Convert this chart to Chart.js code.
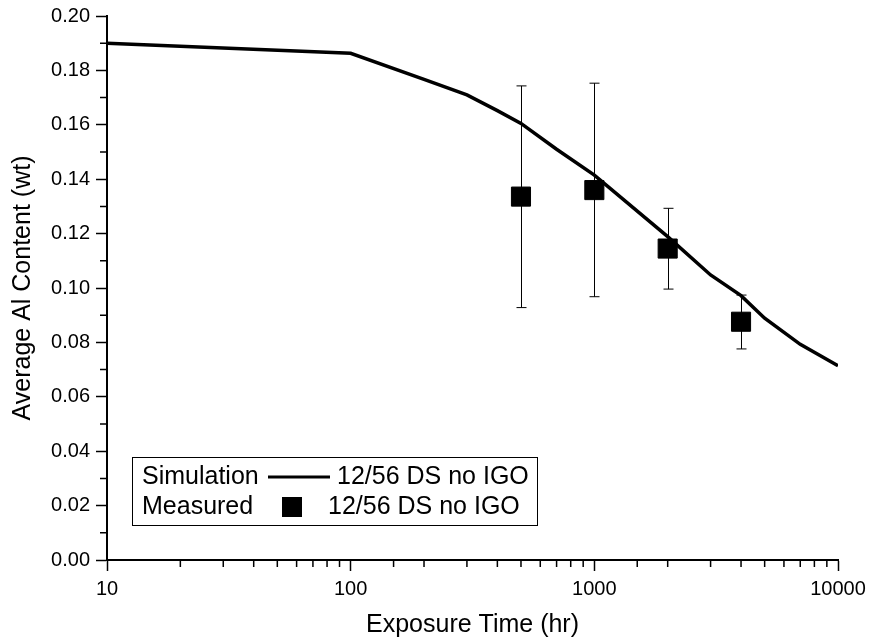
<!DOCTYPE html>
<html>
<head>
<meta charset="utf-8">
<script src="https://cdn.jsdelivr.net/npm/chart.js@4.4.1/dist/chart.umd.min.js"></script>
<style>
  html, body { margin: 0; padding: 0; background: #fff; }
  #wrap { width: 869px; height: 641px; }
</style>
</head>
<body>
<div id="wrap"><canvas id="chart" width="869" height="641"></canvas></div>
<script>
// simulation curve
const simTime = [10, 100, 200, 300, 400, 500, 700, 1000, 2000, 3000, 4000, 5000, 7000, 10000];
const simAl = [0.190, 0.1863, 0.1767, 0.1710, 0.1652, 0.1605, 0.1510, 0.1415, 0.1189, 0.1048, 0.0972, 0.0889, 0.0793, 0.0714];

// measured points with error bars
const measTime = [500, 1000, 2000, 4000];
const measAl = [0.1336, 0.1360, 0.1145, 0.0876];
const errHigh = [0.1743, 0.1753, 0.1293, 0.0974];
const errLow = [0.0928, 0.0968, 0.0996, 0.0776];

const xTickLabels = ['10', '100', '1000', '10000'];
const yTickLabels = ['0.00', '0.02', '0.04', '0.06', '0.08', '0.10', '0.12', '0.14', '0.16', '0.18', '0.20'];

const legendRows = [
  { name: 'Simulation', label: '12/56 DS no IGO' },
  { name: 'Measured', label: '12/56 DS no IGO' }
];

const FONT = "'Liberation Sans', Arial, sans-serif";

function isMajorX(v) {
  const l = Math.log10(v);
  return Math.abs(l - Math.round(l)) < 1e-9;
}
function isMajorY(v) {
  return yTickLabels.includes(v.toFixed(2)) && Math.abs(v * 100 - Math.round(v * 100)) < 1e-6;
}

// error bars under the markers
const errorBars = {
  id: 'errorBars',
  beforeDatasetsDraw(chart) {
    const ctx = chart.ctx;
    const xs = chart.scales.x, ys = chart.scales.y;
    ctx.save();
    ctx.strokeStyle = '#000';
    ctx.lineWidth = 1;
    for (let i = 0; i < measTime.length; i++) {
      const px = Math.round(xs.getPixelForValue(measTime[i])) + 0.5;
      const top = ys.getPixelForValue(errHigh[i]);
      const bot = ys.getPixelForValue(errLow[i]);
      ctx.beginPath();
      ctx.moveTo(px, top); ctx.lineTo(px, bot);
      ctx.moveTo(px - 5, top); ctx.lineTo(px + 5, top);
      ctx.moveTo(px - 5, bot); ctx.lineTo(px + 5, bot);
      ctx.stroke();
    }
    ctx.restore();
  }
};

// shorter minor ticks
const minorTicks = {
  id: 'minorTicks',
  afterDraw(chart) {
    const ctx = chart.ctx;
    const xs = chart.scales.x, ys = chart.scales.y;
    ctx.save();
    ctx.strokeStyle = '#000';
    ctx.lineWidth = 1.5;
    ctx.beginPath();
    xs.ticks.forEach(t => {
      if (isMajorX(t.value)) return;
      const px = xs.getPixelForValue(t.value);
      ctx.moveTo(px, ys.bottom); ctx.lineTo(px, ys.bottom + 7);
    });
    ys.ticks.forEach(t => {
      if (isMajorY(t.value)) return;
      const py = ys.getPixelForValue(t.value);
      ctx.moveTo(xs.left, py); ctx.lineTo(xs.left - 7, py);
    });
    ctx.stroke();
    ctx.restore();
  }
};

// boxed legend in the lower left
const boxLegend = {
  id: 'boxLegend',
  afterDraw(chart) {
    const ctx = chart.ctx;
    const x0 = 132, y0 = 457, w = 405, h = 68;
    ctx.save();
    ctx.fillStyle = '#fff';
    ctx.fillRect(x0, y0, w, h);
    ctx.strokeStyle = '#000';
    ctx.lineWidth = 1;
    ctx.strokeRect(x0 + 0.5, y0 + 0.5, w, h);
    ctx.font = '25px ' + FONT;
    ctx.fillStyle = '#000';
    ctx.textBaseline = 'middle';
    const r1 = y0 + 20, r2 = y0 + 50;
    ctx.fillText(legendRows[0].name, x0 + 10, r1);
    ctx.fillText(legendRows[1].name, x0 + 10, r2);
    ctx.lineWidth = 3;
    ctx.beginPath();
    ctx.moveTo(x0 + 136, r1); ctx.lineTo(x0 + 198, r1);
    ctx.stroke();
    ctx.fillRect(x0 + 150, r2 - 10, 20, 20);
    ctx.fillText(legendRows[0].label, x0 + 205, r1);
    ctx.fillText(legendRows[1].label, x0 + 196, r2);
    ctx.restore();
  }
};

new Chart(document.getElementById('chart'), {
  data: {
    datasets: [
      {
        type: 'line',
        label: 'Simulation',
        data: simTime.map((t, i) => ({ x: t, y: simAl[i] })),
        borderColor: '#000',
        borderWidth: 3.5,
        pointRadius: 0,
        tension: 0,
        fill: false
      },
      {
        type: 'scatter',
        label: 'Measured',
        data: measTime.map((t, i) => ({ x: t, y: measAl[i] })),
        pointStyle: 'rect',
        pointRadius: 13.5,
        backgroundColor: '#000',
        borderColor: '#000',
        borderWidth: 1
      }
    ]
  },
  options: {
    responsive: false,
    animation: false,
    devicePixelRatio: 1,
    layout: { padding: { top: 16, right: 31, left: 0, bottom: 0 } },
    plugins: {
      legend: { display: false },
      tooltip: { enabled: false }
    },
    scales: {
      x: {
        type: 'logarithmic',
        min: 10,
        max: 10000,
        afterFit: s => { s.height = 81; s.paddingRight = 0; s.paddingLeft = 0; },
        border: { display: true, color: '#000', width: 2 },
        grid: {
          drawOnChartArea: false,
          drawTicks: true,
          tickLength: 11,
          tickWidth: 1.5,
          tickColor: c => (c.tick && isMajorX(c.tick.value)) ? '#000' : 'rgba(0,0,0,0)'
        },
        ticks: {
          autoSkip: false,
          maxRotation: 0,
          padding: 6,
          color: '#000',
          font: { family: FONT, size: 20 },
          callback: v => xTickLabels.includes(String(v)) ? String(v) : ''
        },
        title: {
          display: true,
          text: 'Exposure Time (hr)',
          color: '#000',
          font: { family: FONT, size: 25 },
          padding: { top: 0, bottom: 1 }
        }
      },
      y: {
        min: 0,
        max: 0.2,
        afterFit: s => { s.width = 107; s.paddingTop = 0; s.paddingBottom = 0; },
        border: { display: true, color: '#000', width: 2 },
        grid: {
          drawOnChartArea: false,
          drawTicks: true,
          tickLength: 11,
          tickWidth: 1.5,
          tickColor: c => (c.tick && isMajorY(c.tick.value)) ? '#000' : 'rgba(0,0,0,0)'
        },
        ticks: {
          stepSize: 0.01,
          autoSkip: false,
          padding: 6,
          color: '#000',
          font: { family: FONT, size: 20 },
          callback: v => isMajorY(v) ? v.toFixed(2) : ''
        },
        title: {
          display: true,
          text: 'Average Al Content (wt)',
          color: '#000',
          font: { family: FONT, size: 25 },
          padding: { top: 8, bottom: 0 }
        }
      }
    }
  },
  plugins: [errorBars, minorTicks, boxLegend]
});
</script>
</body>
</html>
